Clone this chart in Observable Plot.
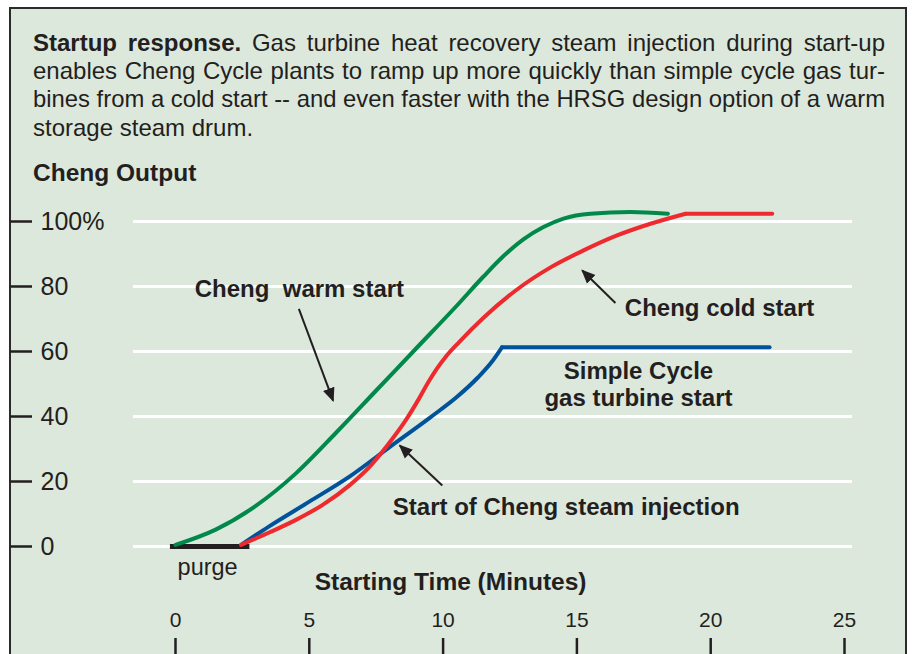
<!DOCTYPE html>
<html>
<head>
<meta charset="utf-8">
<script src="https://cdn.jsdelivr.net/npm/d3@7"></script>
<script src="https://cdn.jsdelivr.net/npm/@observablehq/plot@0.6"></script>
<style>
  html, body { margin: 0; padding: 0; width: 912px; height: 654px; overflow: hidden; background: #ffffff; }
  #frame { position: absolute; left: 9px; top: 7px; width: 894px; height: 700px; background: #dde8dd;
           border: 2.5px solid #2b2b2b; border-bottom: none; }
  #title { position: absolute; left: 33px; top: 28.5px; width: 852px; color: #231f20;
           font-family: "Liberation Sans", Arial, sans-serif; font-size: 24px; line-height: 28.4px; }
  #title .line { white-space: nowrap; }
  #title .line span { display: inline-block; transform-origin: 0 50%; }
  #ylabel { position: absolute; left: 33px; top: 158.2px; color: #231f20; font-weight: bold;
           font-family: "Liberation Sans", Arial, sans-serif; font-size: 24.5px; line-height: 30px; }
  #chart { position: absolute; left: 0; top: 0; }
</style>
</head>
<body>
<div id="frame"></div>
<div id="title">
  <div class="line" data-justify="1"><span><b>Startup response.</b> Gas turbine heat recovery steam injection during start-up</span></div>
  <div class="line" data-justify="1"><span>enables Cheng Cycle plants to ramp up more quickly than simple cycle gas tur-</span></div>
  <div class="line" data-justify="1"><span>bines from a cold start -- and even faster with the HRSG design option of a warm</span></div>
  <div class="line"><span>storage steam drum.</span></div>
</div>
<div id="ylabel">Cheng Output</div>
<div id="chart"></div>
<script>
// ---- data (minutes, percent output) ----
const warmT = [0, 1.5, 3, 4.5, 6, 7.5, 9, 10.5, 11.5, 12.25, 13, 13.75, 14.5, 15.5, 17, 18.4];
const warmV = [0.5, 5.2, 12.5, 22.5, 35, 48, 61, 74, 83.0, 89.3, 94.5, 98.3, 100.9, 102.4, 102.9, 102.4];

const coldT = [2.45, 3.5, 4.5, 5.5, 6.5, 7.25, 8, 8.6, 9.1, 9.45, 9.75, 10.1, 10.6, 11.5, 12.75, 14, 15.25, 16.5, 17.75, 19.06, 22.3];
const coldV = [0.5, 4.3, 8.2, 12.8, 18.8, 24.5, 32, 38.8, 45.5, 50.6, 54.5, 58.4, 62.9, 70.3, 79, 85.8, 91.1, 95.7, 99.3, 102.4, 102.4];

const simpleT = [2.45, 3.5, 5, 6.5, 8, 9.5, 10.5, 11.3, 11.8, 12.2, 22.2];
const simpleV = [0.5, 6.2, 13.8, 21.5, 30.6, 39.6, 45.9, 52, 56.6, 61.3, 61.3];

const coldPlateauFrom = 19.06, simplePlateauFrom = 12.2;
const purgeStart = -0.19, purgeEnd = 2.78;

const yTicks = [0, 20, 40, 60, 80, 100];
const yTickLabels = ["0", "20", "40", "60", "80", "100%"];
const xTicks = [0, 5, 10, 15, 20, 25];
const xTickLabels = ["0", "5", "10", "15", "20", "25"];
const gridFrom = -1.57, gridTo = 25.3;

const labelTexts = ["Cheng  warm start", "Cheng cold start", "Simple Cycle\ngas turbine start", "Start of Cheng steam injection"];
const labelT = [4.63, 20.33, 17.3, 14.6];
const labelV = [79.4, 73.6, 50.0, 12.3];

const arrowFromT = [4.61, 16.44, 9.97];
const arrowFromV = [73.1, 74.9, 18.8];
const arrowToT = [5.89, 15.2, 8.38];
const arrowToV = [44.9, 84.9, 31.1];

const xTitle = "Starting Time (Minutes)";
const xTitleT = 10.28, xTitleV = -11.1;
const purgeLabel = "purge", purgeLabelT = 1.2, purgeLabelV = -6.6;

// ---- justify title lines ----
const TITLE_W = 852;
document.querySelectorAll("#title .line").forEach(line => {
  const span = line.querySelector("span");
  if (!line.dataset.justify) return;
  const w = span.getBoundingClientRect().width;
  const n = (span.textContent.match(/ /g) || []).length;
  if (w < TITLE_W) span.style.wordSpacing = ((TITLE_W - w) / n) + "px";
  else span.style.transform = `scaleX(${TITLE_W / w})`;
});

// ---- build tables ----
const zip = (ts, vs) => ts.map((t, i) => ({t, v: vs[i]}));
const warm = zip(warmT, warmV), cold = zip(coldT, coldV), simple = zip(simpleT, simpleV);
const coldRise = cold.filter(d => d.t <= coldPlateauFrom), coldFlat = cold.filter(d => d.t >= coldPlateauFrom);
const simpleRise = simple.filter(d => d.t <= simplePlateauFrom), simpleFlat = simple.filter(d => d.t >= simplePlateauFrom);
const labels = labelTexts.map((text, i) => ({text, t: labelT[i], v: labelV[i]}));
const arrows = arrowFromT.map((t, i) => ({t1: t, v1: arrowFromV[i], t2: arrowToT[i], v2: arrowToV[i]}));
const yt = yTicks.map((v, i) => ({v, label: yTickLabels[i]}));
const xt = xTicks.map((t, i) => ({t, label: xTickLabels[i]}));

const ink = "#231f20";
const font = "'Liberation Sans', Arial, sans-serif";

const chart = Plot.plot({
  width: 912,
  height: 654,
  marginLeft: 32,
  marginBottom: 16,
  marginTop: 0,
  marginRight: 0,
  style: {background: "transparent", fontFamily: font, color: ink, overflow: "visible"},
  x: {domain: [0, 25], range: [175, 844]},
  y: {domain: [0, 100], range: [546, 221]},
  marks: [
    Plot.ruleY(yTicks, {y: d => d, x1: gridFrom, x2: gridTo, stroke: "#ffffff", strokeWidth: 3}),
    Plot.axisY({ticks: yTicks, tickSize: 22, tickFormat: () => "", stroke: ink, strokeWidth: 2.5, strokeOpacity: 1, label: null}),
    Plot.text(yt, {y: "v", text: "label", frameAnchor: "left", dx: 8, textAnchor: "start", fontSize: 25, fill: ink, fontFamily: font}),
    Plot.axisX({ticks: xTicks, tickSize: 16, tickFormat: () => "", stroke: ink, strokeWidth: 2.5, strokeOpacity: 1, label: null}),
    Plot.text(xt, {x: "t", text: "label", frameAnchor: "bottom", dy: -18, fontSize: 21, fill: ink, fontFamily: font, lineAnchor: "middle"}),
    Plot.text([xTitle], {x: xTitleT, y: xTitleV, text: d => d, fontSize: 24.5, fontWeight: "bold", fill: ink, fontFamily: font}),
    Plot.text([purgeLabel], {x: purgeLabelT, y: purgeLabelV, text: d => d, fontSize: 23.5, fill: ink, fontFamily: font}),
    Plot.ruleY([0], {x1: purgeStart, x2: purgeEnd, stroke: ink, strokeWidth: 5}),
    Plot.line(simpleRise, {x: "t", y: "v", stroke: "#00539b", strokeWidth: 4, curve: "monotone-x"}),
    Plot.line(simpleFlat, {x: "t", y: "v", stroke: "#00539b", strokeWidth: 4, curve: "linear"}),
    Plot.line(coldRise, {x: "t", y: "v", stroke: "#ee2a2e", strokeWidth: 4, curve: "monotone-x"}),
    Plot.line(coldFlat, {x: "t", y: "v", stroke: "#ee2a2e", strokeWidth: 4, curve: "linear"}),
    Plot.line(warm, {x: "t", y: "v", stroke: "#00894a", strokeWidth: 4, curve: "monotone-x"}),
    Plot.link(arrows, {x1: "t1", y1: "v1", x2: "t2", y2: "v2", stroke: ink, strokeWidth: 2, className: "annotarrow"}),
    Plot.text(labels, {x: "t", y: "v", text: "text", fontSize: 24, fontWeight: "bold", fill: ink, fontFamily: font, lineHeight: 1.12})
  ]
});

// filled arrowheads on the annotation links
(function addHeads(svg) {
  const ns = "http://www.w3.org/2000/svg";
  const defs = document.createElementNS(ns, "defs");
  const m = document.createElementNS(ns, "marker");
  m.setAttribute("id", "filled-head");
  m.setAttribute("viewBox", "0 -5 10 10");
  m.setAttribute("refX", "9");
  m.setAttribute("refY", "0");
  m.setAttribute("markerWidth", "7");
  m.setAttribute("markerHeight", "7");
  m.setAttribute("orient", "auto");
  const p = document.createElementNS(ns, "path");
  p.setAttribute("d", "M0,-4.3L10,0L0,4.3Z");
  p.setAttribute("fill", ink);
  m.appendChild(p);
  defs.appendChild(m);
  svg.insertBefore(defs, svg.firstChild);
  let paths = svg.querySelectorAll(".annotarrow path");
  if (!paths.length) paths = svg.querySelectorAll('g[aria-label="link"] path');
  paths.forEach(path => path.setAttribute("marker-end", "url(#filled-head)"));
})(chart);

document.getElementById("chart").appendChild(chart);
</script>
</body>
</html>
